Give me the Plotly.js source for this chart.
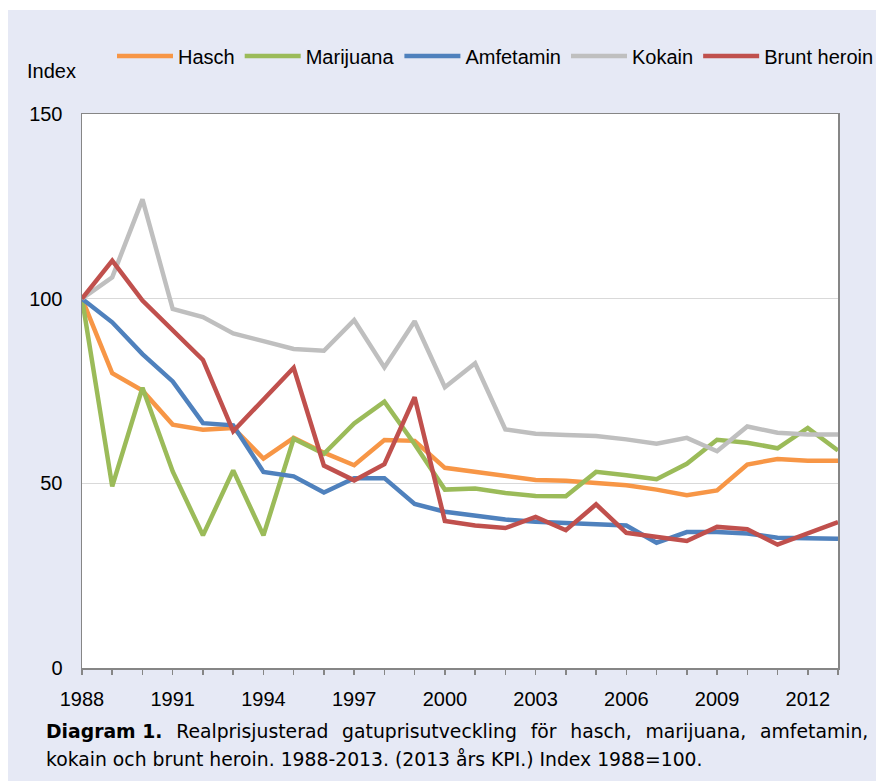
<!DOCTYPE html>
<html>
<head>
<meta charset="utf-8">
<script src="https://cdn.plot.ly/plotly-3.0.1.min.js"></script>
<style>
  html, body { margin: 0; padding: 0; background: #ffffff; }
  #chart { position: absolute; left: 8px; top: 10px; width: 868px; height: 771px; }
</style>
</head>
<body>
<div id="chart"></div>
<script>
const years = [1988,1989,1990,1991,1992,1993,1994,1995,1996,1997,1998,1999,2000,2001,2002,2003,2004,2005,2006,2007,2008,2009,2010,2011,2012,2013];

const hasch = [100,79.8,75.1,65.9,64.5,65.0,56.7,62.3,58.3,54.9,61.7,61.5,54.2,53.1,51.8,50.9,50.7,50.1,49.5,48.3,46.8,48.1,55.1,56.6,56.1,56.1];
const marijuana = [100,49.2,75.9,53.2,35.9,53.5,35.9,62.1,58.0,66.2,72.1,60.6,48.3,48.6,47.4,46.6,46.5,53.1,52.2,51.1,55.3,61.8,61.0,59.5,65.0,58.9];
const amfetamin = [100,93.6,85.0,77.6,66.3,65.7,53.1,51.9,47.5,51.4,51.4,44.4,42.3,41.1,40.2,39.6,39.3,39.2,38.6,33.9,36.8,36.8,36.4,35.3,35.0,35.0];
const kokain = [100,105.8,126.9,97.2,95.0,90.6,88.5,86.4,85.9,94.2,81.4,93.9,76.0,82.5,64.6,63.4,63.1,62.8,61.9,60.7,62.3,58.7,65.4,63.7,63.2,63.2];
const bruntHeroin = [100,110.3,99.5,91.4,83.4,64.1,72.9,81.3,54.8,50.8,55.2,73.3,39.8,38.6,37.9,40.9,37.3,44.3,36.6,35.5,34.4,38.2,37.6,33.4,36.4,39.5];

const seriesNames = ["Hasch","Marijuana","Amfetamin","Kokain","Brunt heroin"];
const seriesValues = [hasch, marijuana, amfetamin, kokain, bruntHeroin];
const seriesColors = ["#F79646","#9BBB59","#4F81BD","#BFBFBF","#C0504D"];

const yTickVals = [0,50,100,150];
const yTickText = ["0","50","100","150"];

const yLabel = "Index";
const captionBold = "Diagram 1.";
const captionLine1 = " Realprisjusterad gatuprisutveckling för hasch, marijuana, amfetamin,";
const captionLine2 = "kokain och brunt heroin. 1988-2013. (2013 års KPI.) Index 1988=100.";

const traces = seriesNames.map((name, i) => ({
  type: "scatter",
  mode: "lines",
  name: name,
  x: years,
  y: seriesValues[i],
  line: { color: seriesColors[i], width: 4.5 }
}));

const FONT = "Liberation Sans, Arial, sans-serif";
const CAP_FONT = "DejaVu Sans, sans-serif";
const W = 868, H = 771;
const ml = 74, mr = 38, mt = 104, mb = 113;
const pw = W - ml - mr, ph = H - mt - mb;
function px(x) { return (x - 8 - ml) / pw; }
function py(y) { return (H - mb - (y - 10)) / ph; }

// widen word gaps of the justified first caption line
const line1Justified = captionLine1.split(" ").join(" \u2005\u2006");

const layout = {
  width: W, height: H,
  margin: { l: ml, r: mr, t: mt, b: mb, pad: 0, autoexpand: false },
  paper_bgcolor: "#E6E9F5",
  plot_bgcolor: "#ffffff",
  font: { family: FONT, size: 20, color: "#000000" },
  showlegend: true,
  legend: {
    orientation: "h",
    x: px(879), xanchor: "right",
    y: py(56), yanchor: "middle",
    bgcolor: "rgba(0,0,0,0)",
    font: { family: FONT, size: 20, color: "#000000" },
    itemwidth: 56,
    traceorder: "normal"
  },
  xaxis: {
    range: [1988, 2013],
    tickmode: "linear", tick0: 1988, dtick: 3,
    ticks: "outside", ticklen: 5, tickwidth: 1.5, tickcolor: "#868686",
    minor: { tickmode: "linear", tick0: 1988, dtick: 1, ticks: "outside", ticklen: 5, tickwidth: 1.5, tickcolor: "#868686", showgrid: false },
    showgrid: false, zeroline: false,
    showline: true, linecolor: "#868686", linewidth: 1.5, mirror: true,
    ticklabelstandoff: 7,
    tickfont: { family: FONT, size: 20, color: "#000000" },
    fixedrange: true
  },
  yaxis: {
    range: [0, 150],
    tickmode: "array", tickvals: yTickVals, ticktext: yTickText,
    ticks: "",
    showgrid: true, gridcolor: "#D9D9D9", gridwidth: 1,
    zeroline: false,
    showline: true, linecolor: "#868686", linewidth: 1.5, mirror: true,
    ticklabelstandoff: 14,
    tickfont: { family: FONT, size: 20, color: "#000000" },
    fixedrange: true
  },
  annotations: [
    { text: yLabel, xref: "paper", yref: "paper", x: px(25), y: py(71), xanchor: "left", yanchor: "middle",
      showarrow: false, font: { family: FONT, size: 20, color: "#000000" } },
    { text: "<b>" + captionBold + "</b>" + line1Justified, xref: "paper", yref: "paper", x: px(44), y: py(731),
      xanchor: "left", yanchor: "middle", showarrow: false, font: { family: CAP_FONT, size: 18.8, color: "#000000" } },
    { text: captionLine2, xref: "paper", yref: "paper", x: px(44), y: py(759),
      xanchor: "left", yanchor: "middle", showarrow: false, font: { family: CAP_FONT, size: 18.8, color: "#000000" } }
  ]
};

Plotly.newPlot("chart", traces, layout, { displayModeBar: false, staticPlot: true });
</script>
</body>
</html>
